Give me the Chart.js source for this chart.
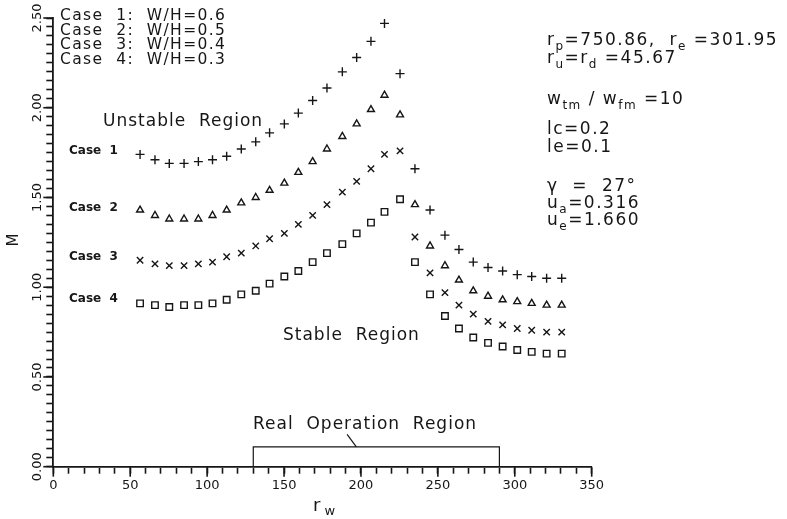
<!DOCTYPE html>
<html>
<head>
<meta charset="utf-8">
<script src="https://cdn.jsdelivr.net/npm/chart.js@4.4.1/dist/chart.umd.min.js"></script>
<style>
  html, body { margin: 0; padding: 0; background: #ffffff; }
  canvas { display: block; }
</style>
</head>
<body>
<canvas id="chart" width="787" height="519"></canvas>
<script>
// r_w sample positions shared by all four cases
const rW = [56.4, 66.1, 75.4, 85.0, 94.3, 103.5, 112.7, 122.2, 131.6, 140.6,
            150.2, 159.3, 168.6, 177.9, 187.9, 197.2, 206.5, 215.3, 225.4, 235.1,
            244.9, 254.6, 263.7, 273.0, 282.6, 292.1, 301.6, 311.0, 320.7, 330.5];

// M for each W/H case
const case1M = [1.74, 1.71, 1.69, 1.69, 1.70, 1.71, 1.73, 1.77, 1.81, 1.86,
                1.91, 1.97, 2.04, 2.11, 2.20, 2.28, 2.37, 2.47, 2.19, 1.66,
                1.43, 1.29, 1.21, 1.14, 1.11, 1.09, 1.07, 1.06, 1.05, 1.05];
const case2M = [1.43, 1.40, 1.38, 1.38, 1.38, 1.40, 1.43, 1.47, 1.50, 1.54,
                1.58, 1.64, 1.70, 1.77, 1.84, 1.91, 1.99, 2.07, 1.96, 1.46,
                1.23, 1.12, 1.04, 0.98, 0.95, 0.93, 0.92, 0.91, 0.90, 0.90];
const case3M = [1.15, 1.13, 1.12, 1.12, 1.13, 1.14, 1.17, 1.19, 1.23, 1.27,
                1.30, 1.35, 1.40, 1.46, 1.53, 1.59, 1.66, 1.74, 1.76, 1.28,
                1.08, 0.97, 0.90, 0.85, 0.81, 0.79, 0.77, 0.76, 0.75, 0.75];
const case4M = [0.91, 0.90, 0.89, 0.90, 0.90, 0.91, 0.93, 0.96, 0.98, 1.02,
                1.06, 1.09, 1.14, 1.19, 1.24, 1.30, 1.36, 1.42, 1.49, 1.14,
                0.96, 0.84, 0.77, 0.72, 0.69, 0.67, 0.65, 0.64, 0.63, 0.63];

const caseNames = ['Case  1', 'Case  2', 'Case  3', 'Case  4'];
const caseRatios = ['0.6', '0.5', '0.4', '0.3'];

// axis ticks: labelled majors, unlabelled minors in between
const xMajorTicks = [0, 50, 100, 150, 200, 250, 300, 350];
const xTickLabels = ['0', '50', '100', '150', '200', '250', '300', '350'];
const xMinorStep = 10;
const yMajorTicks = [0, 0.5, 1.0, 1.5, 2.0, 2.5];
const yTickLabels = ['0.00', '0.50', '1.00', '1.50', '2.00', '2.50'];
const yMinorStep = 0.05;

// real operation range of r_w
const operationRange = [130, 290];
const operationHeight = 0.11;

const INK = '#161616';
const FONT = '"DejaVu Sans", "Liberation Sans", sans-serif';

function series(values) {
  return values.map((m, i) => ({ x: rW[i], y: m }));
}

function marker(style, radius) {
  return {
    showLine: false,
    pointStyle: style,
    pointRadius: radius,
    pointHoverRadius: radius,
    pointBorderColor: INK,
    pointBackgroundColor: 'rgba(0,0,0,0)',
    pointBorderWidth: 1.4,
    borderColor: INK
  };
}

function stepTicks(max, step) {
  const out = [];
  const n = Math.round(max / step);
  for (let k = 0; k <= n; k++) out.push({ value: +(k * step).toFixed(4) });
  return out;
}

function labelFor(majors, labels, v) {
  const i = majors.findIndex(t => Math.abs(t - v) < 1e-6);
  return i < 0 ? '' : labels[i];
}

// write a run of normal / subscript pieces starting at (x, y)
function richText(ctx, x, y, parts, size) {
  let cx = x;
  for (const [txt, sub] of parts) {
    ctx.font = (sub ? Math.round(size * 0.72) : size) + 'px ' + FONT;
    ctx.fillText(txt, cx, y + (sub ? size * 0.32 : 0));
    cx += ctx.measureText(txt).width;
  }
  return cx;
}

const decorations = {
  id: 'decorations',
  afterDraw(chart) {
    const ctx = chart.ctx;
    const xs = chart.scales.x, ys = chart.scales.y;
    const y0 = ys.getPixelForValue(0);
    const x0 = xs.getPixelForValue(0);
    ctx.save();
    ctx.strokeStyle = INK;
    ctx.fillStyle = INK;
    ctx.lineWidth = 1.6;

    // longer marks at the labelled ticks
    xMajorTicks.forEach(v => {
      const px = xs.getPixelForValue(v);
      ctx.beginPath();
      ctx.moveTo(px, y0);
      ctx.lineTo(px, y0 + 10);
      ctx.stroke();
    });
    yMajorTicks.forEach(v => {
      const py = ys.getPixelForValue(v);
      ctx.beginPath();
      ctx.moveTo(x0, py);
      ctx.lineTo(x0 - 10, py);
      ctx.stroke();
    });

    // real operation region bracket
    const bl = xs.getPixelForValue(operationRange[0]);
    const br = xs.getPixelForValue(operationRange[1]);
    const bt = ys.getPixelForValue(operationHeight);
    ctx.lineWidth = 1.2;
    ctx.beginPath();
    ctx.moveTo(bl, y0);
    ctx.lineTo(bl, bt);
    ctx.lineTo(br, bt);
    ctx.lineTo(br, y0);
    ctx.stroke();
    ctx.beginPath();
    ctx.moveTo(xs.getPixelForValue(191), ys.getPixelForValue(0.18));
    ctx.lineTo(xs.getPixelForValue(197), bt);
    ctx.stroke();

    ctx.textBaseline = 'middle';
    ctx.textAlign = 'left';

    // case list
    ctx.letterSpacing = '1.4px';
    ctx.font = '15.5px ' + FONT;
    caseNames.forEach((name, i) => {
      ctx.fillText(name + ':  W/H=' + caseRatios[i], 60, 16 + i * 14.5);
    });

    // region labels
    ctx.letterSpacing = '1px';
    ctx.font = '17px ' + FONT;
    ctx.fillText('Unstable  Region', 103, 122);
    ctx.fillText('Stable  Region', 283, 336);
    ctx.fillText('Real  Operation  Region', 253, 425);

    // curve tags
    ctx.letterSpacing = '0px';
    ctx.font = 'bold 12px ' + FONT;
    const tagY = [151, 208, 257, 299];
    caseNames.forEach((name, i) => ctx.fillText(name, 69, tagY[i]));

    // parameter block
    ctx.letterSpacing = '1.5px';
    const px = 547, s = 17;
    richText(ctx, px, 41, [['r', 0], ['p', 1], ['=750.86,  r', 0], ['e', 1], [' =301.95', 0]], s);
    richText(ctx, px, 59, [['r', 0], ['u', 1], ['=r', 0], ['d', 1], [' =45.67', 0]], s);
    richText(ctx, px, 100, [['w', 0], ['tm', 1], [' / w', 0], ['fm', 1], [' =10', 0]], s);
    richText(ctx, px, 130, [['lc=0.2', 0]], s);
    richText(ctx, px, 148, [['le=0.1', 0]], s);
    richText(ctx, px, 187, [['\u03B3  =  27\u00B0', 0]], s);
    richText(ctx, px, 204, [['u', 0], ['a', 1], ['=0.316', 0]], s);
    richText(ctx, px, 221, [['u', 0], ['e', 1], ['=1.660', 0]], s);

    // axis titles
    ctx.letterSpacing = '0px';
    richText(ctx, 313, 506, [['r', 0], [' w', 1]], 18);
    ctx.translate(14, 240);
    ctx.rotate(-Math.PI / 2);
    ctx.textAlign = 'center';
    ctx.font = '15px ' + FONT;
    ctx.fillText('M', 0, 0);
    ctx.restore();
  }
};

new Chart(document.getElementById('chart'), {
  type: 'scatter',
  data: {
    datasets: [
      Object.assign({ label: 'Case 1', data: series(case1M) }, marker('cross', 4.5)),
      Object.assign({ label: 'Case 2', data: series(case2M) }, marker('triangle', 4)),
      Object.assign({ label: 'Case 3', data: series(case3M) }, marker('crossRot', 4.5)),
      Object.assign({ label: 'Case 4', data: series(case4M) }, marker('rect', 4.6))
    ]
  },
  options: {
    responsive: false,
    animation: false,
    events: [],
    layout: { padding: { top: 18, right: 195.3, left: 0, bottom: 0 } },
    plugins: { legend: { display: false }, tooltip: { enabled: false } },
    scales: {
      x: {
        type: 'linear',
        min: 0, max: 350,
        afterFit(scale) { scale.height = 52.3; },
        afterBuildTicks(scale) { scale.ticks = stepTicks(350, xMinorStep); },
        grid: {
          display: true, drawOnChartArea: false, drawTicks: true,
          tickLength: 7, tickColor: INK, tickWidth: 1.6
        },
        border: { display: true, color: INK, width: 1.8 },
        ticks: {
          color: INK,
          padding: 4.5,
          autoSkip: false,
          maxRotation: 0,
          font: { family: FONT, size: 13 },
          callback: (v) => labelFor(xMajorTicks, xTickLabels, v)
        }
      },
      y: {
        type: 'linear',
        min: 0, max: 2.5,
        afterFit(scale) { scale.width = 53.3; },
        afterBuildTicks(scale) { scale.ticks = stepTicks(2.5, yMinorStep); },
        grid: {
          display: true, drawOnChartArea: false, drawTicks: true,
          tickLength: 7, tickColor: INK, tickWidth: 1.6
        },
        border: { display: true, color: INK, width: 1.8 },
        ticks: {
          color: INK,
          padding: -6,
          autoSkip: false,
          minRotation: 90,
          maxRotation: 90,
          crossAlign: 'center',
          font: { family: FONT, size: 13 },
          callback: (v) => labelFor(yMajorTicks, yTickLabels, v)
        }
      }
    }
  },
  plugins: [decorations]
});
</script>
</body>
</html>
